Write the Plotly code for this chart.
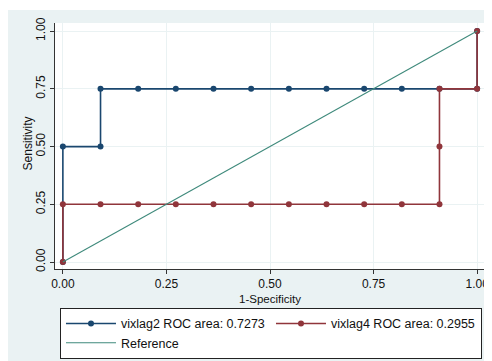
import plotly.graph_objects as go

# ROC points (1-specificity, sensitivity)
fpr_vixlag2 = [0.0, 0.0, 0.0909, 0.0909, 0.1818, 0.2727, 0.3636, 0.4545, 0.5455,
               0.6364, 0.7273, 0.8182, 0.9091, 1.0, 1.0]
tpr_vixlag2 = [0.0, 0.5, 0.5, 0.75, 0.75, 0.75, 0.75, 0.75, 0.75,
               0.75, 0.75, 0.75, 0.75, 0.75, 1.0]

fpr_vixlag4 = [0.0, 0.0, 0.0909, 0.1818, 0.2727, 0.3636, 0.4545, 0.5455, 0.6364,
               0.7273, 0.8182, 0.9091, 0.9091, 0.9091, 1.0, 1.0]
tpr_vixlag4 = [0.0, 0.25, 0.25, 0.25, 0.25, 0.25, 0.25, 0.25, 0.25,
               0.25, 0.25, 0.25, 0.5, 0.75, 0.75, 1.0]

ref_x = [0.0, 1.0]
ref_y = [0.0, 1.0]

names = ["vixlag2 ROC area: 0.7273", "vixlag4 ROC area: 0.2955", "Reference"]
ticks = [0, 0.25, 0.5, 0.75, 1.0]
tick_text = ["0.00", "0.25", "0.50", "0.75", "1.00"]

navy = "#1a476f"
maroon = "#90353b"
teal = "#3f8a7c"
bg = "#eaf2f3"

fig = go.Figure()
fig.add_trace(go.Scatter(x=fpr_vixlag2, y=tpr_vixlag2, mode="lines+markers", name=names[0],
                         line=dict(color=navy, width=1.6), marker=dict(color=navy, size=6)))
fig.add_trace(go.Scatter(x=fpr_vixlag4, y=tpr_vixlag4, mode="lines+markers", name=names[1],
                         line=dict(color=maroon, width=1.6), marker=dict(color=maroon, size=6)))
fig.add_trace(go.Scatter(x=ref_x, y=ref_y, mode="lines", name=names[2],
                         line=dict(color=teal, width=1.1)))

# white strip at the top of the grey graph region (page margin gives the left one)
fig.add_shape(type="rect", xref="paper", yref="paper", x0=-0.2, x1=1.1, y0=1.0528, y1=1.2,
              fillcolor="white", line_width=0, layer="above")

axis_common = dict(tickvals=ticks, ticktext=tick_text, showgrid=True, gridcolor=bg, gridwidth=1,
                   zeroline=False, showline=True, linecolor="#333333", linewidth=1,
                   ticks="outside", ticklen=4, tickcolor="#333333", automargin=False,
                   tickfont=dict(size=12, color="#111111"))

fig.update_xaxes(range=[-0.019, 1.019], **axis_common)
fig.update_yaxes(range=[-0.030, 1.035], tickangle=-90, **axis_common)

# axis titles
fig.add_annotation(text="1-Specificity", xref="paper", yref="paper", x=0.5, y=-0.122,
                   showarrow=False, font=dict(size=11.5, color="#111111"), yanchor="middle")
fig.add_annotation(text="Sensitivity", xref="paper", yref="paper", x=-0.063, y=0.51,
                   textangle=-90, showarrow=False, font=dict(size=12, color="#111111"),
                   xanchor="center")

fig.update_layout(
    width=484, height=353,
    margin=dict(l=47, r=7, t=15, b=92, autoexpand=False),
    paper_bgcolor=bg, plot_bgcolor="white",
    font=dict(family="Liberation Sans, Arial, sans-serif", color="#111111"),
    legend=dict(orientation="h", x=0.0116, y=-0.158, xanchor="left", yanchor="top",
                bgcolor="white", bordercolor="#222222", borderwidth=1,
                entrywidth=145, font=dict(size=12.5), tracegroupgap=0, itemwidth=50),
    showlegend=True,
)

fig.write_html("out.html")
